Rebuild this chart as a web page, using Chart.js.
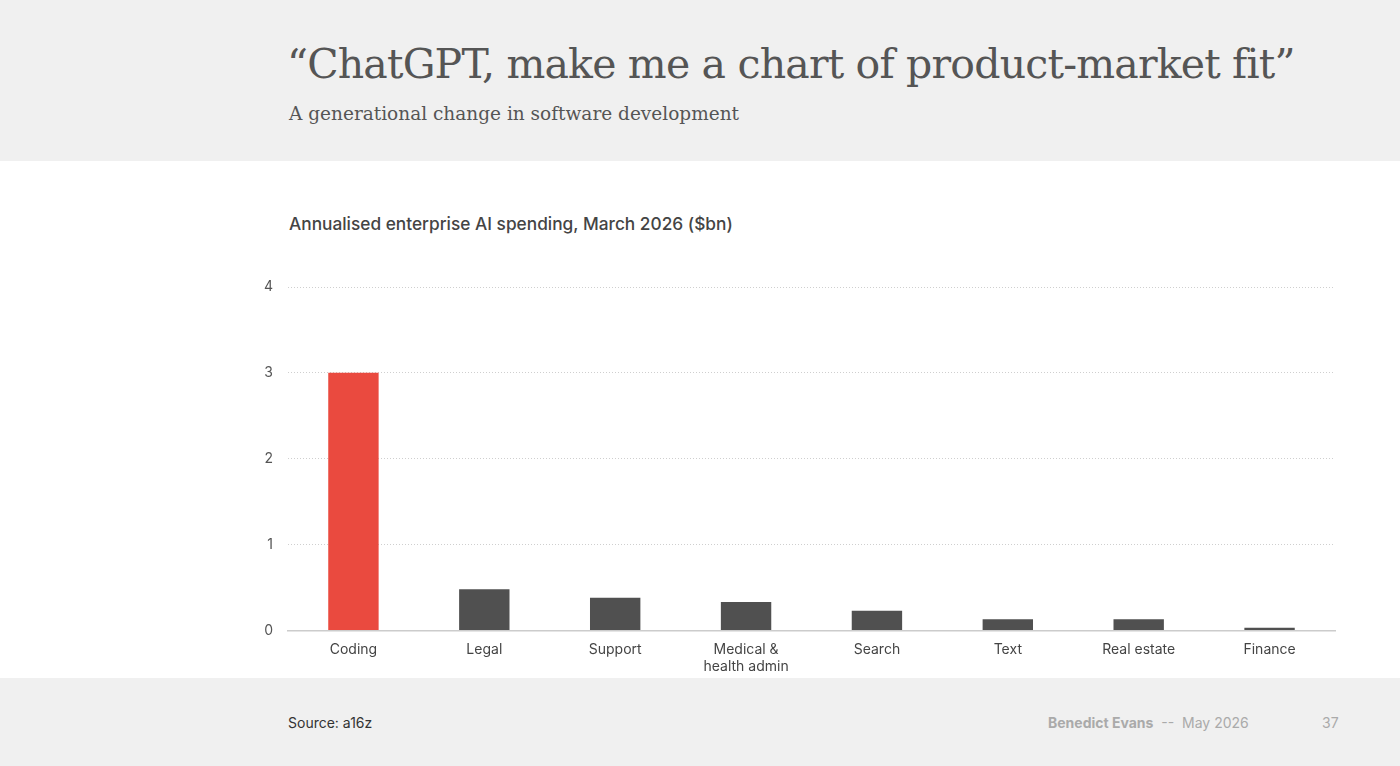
<!DOCTYPE html>
<html>
<head>
<meta charset="utf-8">
<script src="https://cdn.jsdelivr.net/npm/chart.js@4/dist/chart.umd.min.js"></script>
<style>
  html, body { margin: 0; padding: 0; }
  body { width: 1400px; height: 766px; background: #f0f0f0; position: relative; overflow: hidden; font-family: Inter, "Noto Sans", sans-serif; }
  .title { position: absolute; left: 287px; top: 40px; font-family: "DejaVu Serif", serif; font-size: 41px; color: #555; white-space: nowrap; letter-spacing: -0.8px; }
  .subtitle { position: absolute; left: 289px; top: 103px; font-family: "DejaVu Serif", serif; font-size: 18.5px; color: #555; white-space: nowrap; }
  .panel { position: absolute; left: 0; top: 161px; width: 1400px; height: 517px; background: #fff; }
  .chart-title { position: absolute; left: 289px; top: 213px; font-size: 17.3px; font-weight: 500; color: #444; white-space: nowrap; }
  #chart { position: absolute; left: 0; top: 161px; }
  .source { position: absolute; left: 288px; top: 714px; font-size: 14px; color: #333; }
  .footer { position: absolute; left: 1048px; top: 714px; font-size: 14px; color: #aaa; white-space: nowrap; }
  .footer b { font-weight: 700; color: #aaa; }
  .page { position: absolute; left: 1322px; top: 714px; font-size: 14px; color: #aaa; }
</style>
</head>
<body>
<div class="title">“ChatGPT, make me a chart of product-market fit”</div>
<div class="subtitle">A generational change in software development</div>
<div class="panel"></div>
<div class="chart-title">Annualised enterprise AI spending, March 2026 ($bn)</div>
<canvas id="chart" width="1400" height="517"></canvas>
<div class="source">Source: a16z</div>
<div class="footer"><b>Benedict Evans</b>&nbsp; -- &nbsp;May 2026</div>
<div class="page">37</div>
<script>
var categories = ['Coding', 'Legal', 'Support', ['Medical &', 'health admin'], 'Search', 'Text', 'Real estate', 'Finance'];
var spending = [3.0, 0.48, 0.38, 0.33, 0.23, 0.13, 0.13, 0.03];
var barColors = ['#ea4a3f', '#505050', '#505050', '#505050', '#505050', '#505050', '#505050', '#505050'];
var yTicks = [0, 1, 2, 3, 4];

var canvas = document.getElementById('chart');
canvas.style.width = '1400px';
canvas.style.height = '517px';

new Chart(canvas.getContext('2d'), {
  type: 'bar',
  data: {
    labels: categories,
    datasets: [{
      data: spending,
      backgroundColor: barColors,
      barPercentage: 0.385,
      categoryPercentage: 1
    }]
  },
  options: {
    responsive: false,
    animation: false,
    layout: { padding: { left: 0, right: 65, top: 126, bottom: 0 } },
    plugins: { legend: { display: false }, tooltip: { enabled: false } },
    scales: {
      x: {
        grid: { display: false },
        border: { display: true, color: '#cccccc', width: 1.5 },
        ticks: { color: '#444', font: { family: 'Inter', size: 14 }, padding: 3, maxRotation: 0, autoSkip: false }
      },
      y: {
        min: 0,
        max: 4,
        afterFit: function (scale) { scale.width = 288; },
        afterBuildTicks: function (scale) { scale.ticks = yTicks.map(function (v) { return { value: v }; }); },
        grid: { color: '#cfcfcf', lineWidth: 1, drawTicks: false },
        border: { display: false, dash: [1, 2] },
        ticks: { color: '#555', font: { family: 'Inter', size: 14 }, padding: 15 }
      }
    }
  }
});
</script>
</body>
</html>
